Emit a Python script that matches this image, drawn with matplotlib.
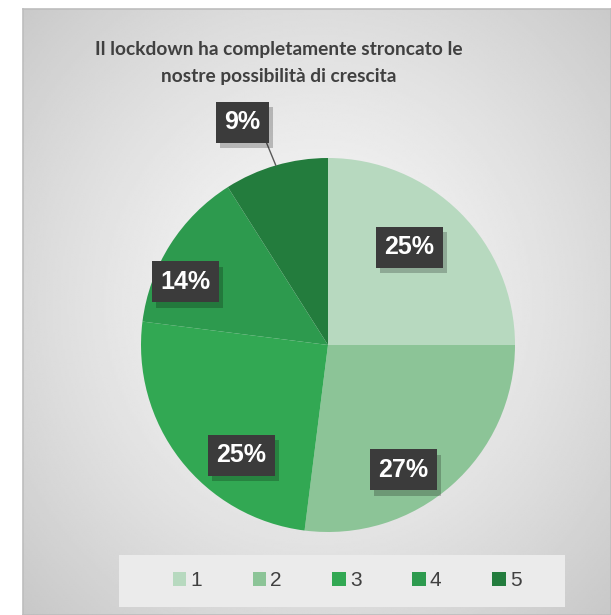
import matplotlib.pyplot as plt
import matplotlib.patheffects as pe
from matplotlib.patches import Rectangle
import numpy as np

title = "Il lockdown ha completamente stroncato le\nnostre possibilità di crescita"
categories = ['1', '2', '3', '4', '5']
shares = [25, 27, 25, 14, 9]
colors = ['#b7d9bf', '#8cc497', '#32a853', '#2d9a4e', '#237c3d']

# label placement: radius (fraction of pie radius) and nudge from the wedge middle (deg)
label_radius = [0.68, 0.78, 0.75, 0.835, 1.275]
label_nudge = [5.3, -10.2, 14.0, 8.6, 4.8]

W, H = 611, 615
fig = plt.figure(figsize=(W / 100, H / 100), dpi=100)
fig.patch.set_facecolor('white')

# chart area with radial grey gradient
bg = fig.add_axes([23 / W, 0, (W - 23) / W, (H - 8.5) / H])
yy, xx = np.mgrid[0:300, 0:300]
cx, cy = 150, 145
d = np.hypot((xx - cx) / 150, (yy - cy) / 155)
shade = 0.975 - 0.19 * np.clip(d / 1.4, 0, 1) ** 1.3
bg.imshow(shade, cmap='gray', vmin=0, vmax=1, aspect='auto',
          extent=[0, 1, 0, 1], origin='upper', interpolation='bilinear')
bg.set_xlim(0, 1)
bg.set_ylim(0, 1)
bg.set_xticks([])
bg.set_yticks([])
for s in bg.spines.values():
    s.set_color('#bdbdbd')
    s.set_linewidth(1.2)

# pie centre (328, 345) px, radius 187 px
R = 187
ax = fig.add_axes([(328 - R) / W, (H - 345 - R) / H, 2 * R / W, 2 * R / H])
wedges, _ = ax.pie(shares, colors=colors, startangle=90, counterclock=False,
                   radius=1, wedgeprops=dict(linewidth=0))
ax.set_xlim(-1, 1)
ax.set_ylim(-1, 1)
ax.set_aspect('auto')

box = dict(boxstyle='square,pad=0.34', facecolor='#3b3b3b', edgecolor='none')
label_style = dict(ha='center', va='center', fontsize=18, fontweight='bold',
                   family='Liberation Sans', color='white', bbox=box)
shadow = [pe.SimplePatchShadow(offset=(3, -4), shadow_rgbFace='black', alpha=0.22),
          pe.Normal()]

for w, v, r, nudge in zip(wedges, shares, label_radius, label_nudge):
    mid = (w.theta1 + w.theta2) / 2
    ang = np.deg2rad(mid + nudge)
    lx, ly = r * np.cos(ang), r * np.sin(ang)
    txt = f'{v}%'
    if r > 1:
        edge = np.deg2rad(mid)
        t = ax.annotate(txt, xy=(np.cos(edge), np.sin(edge)), xytext=(lx, ly),
                        arrowprops=dict(arrowstyle='-', color='#595959', lw=1,
                                        relpos=(1, 0.25), shrinkA=0, shrinkB=0),
                        annotation_clip=False, **label_style)
    else:
        t = ax.text(lx, ly, txt, **label_style)
    t.get_bbox_patch().set_path_effects(shadow)

fig.text(279 / W, 1 - 63 / H, title, ha='center', va='center', fontsize=13.8,
         fontweight='bold', family='Lato', color='#404040', linespacing=1.7)

# legend strip
fig.patches.append(Rectangle((119 / W, (H - 607) / H), 446 / W, 52 / H,
                             transform=fig.transFigure, facecolor='#ebebeb',
                             edgecolor='none', zorder=1))
handles = [Rectangle((0, 0), 1, 1, facecolor=c, edgecolor='none') for c in colors]
leg = fig.legend(handles, categories, loc='center', ncol=5,
                 bbox_to_anchor=(347 / W, (H - 581) / H), frameon=False,
                 handlelength=0.63, handleheight=0.63, handletextpad=0.2,
                 columnspacing=2.45, prop={'family': 'Liberation Sans', 'size': 15})
for t in leg.get_texts():
    t.set_color('#404040')

fig.savefig('out.png', dpi=100)
